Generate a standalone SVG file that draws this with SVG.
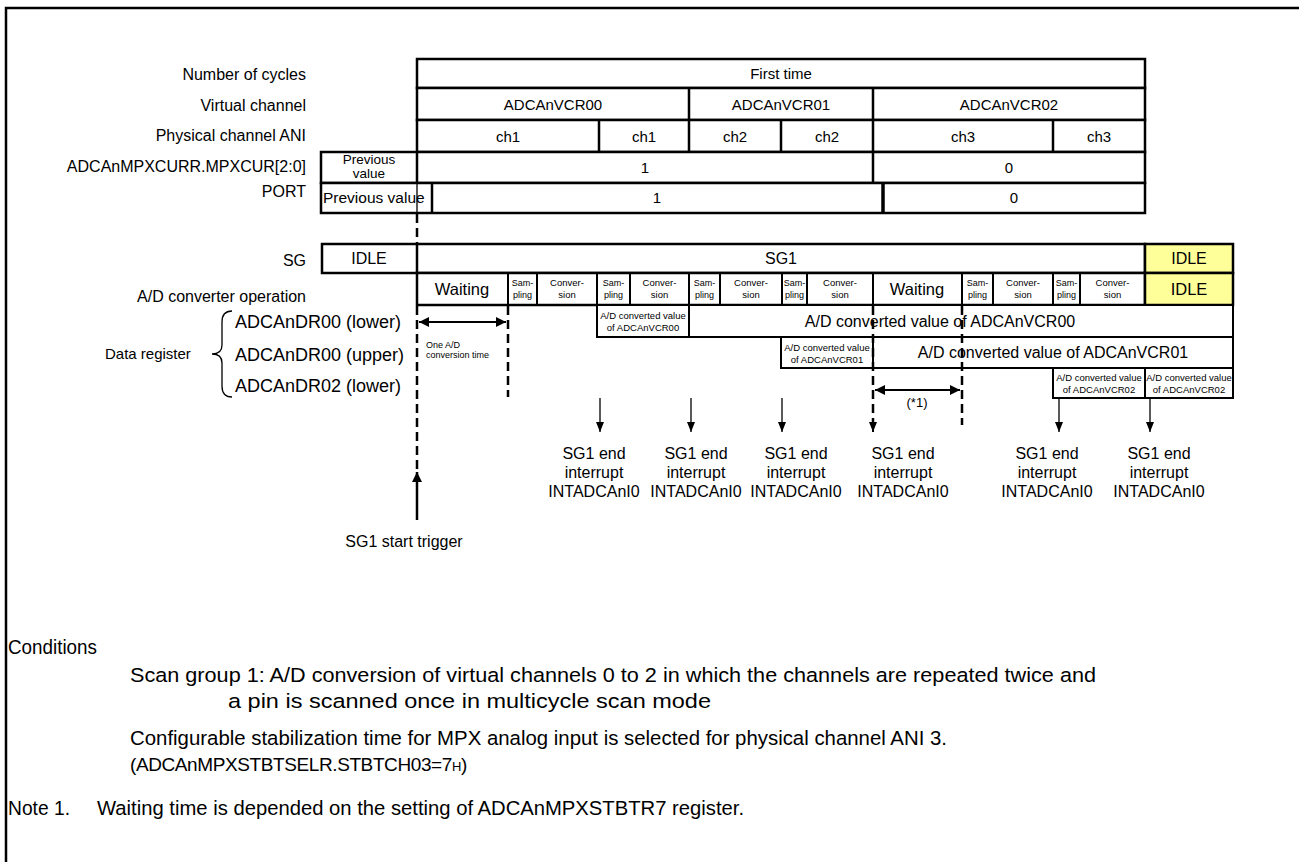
<svg xmlns="http://www.w3.org/2000/svg" width="1299" height="862" viewBox="0 0 1299 862">
<defs>
<style>
text{font-family:"Liberation Sans",Arial,sans-serif;fill:#000}
.lbl{font-size:16px;text-anchor:end}
.c{text-anchor:middle}
.t15{font-size:15px}
.t16{font-size:16px}
.box{fill:#fff;stroke:#000;stroke-width:2.5}
.yl{fill:#ffff99;stroke:#000;stroke-width:2.5}
.dv{stroke:#000;stroke-width:2.5;fill:none}
.dv2{stroke:#000;stroke-width:2;fill:none}
.thin{stroke:#000;stroke-width:1.3;fill:none}
.dash{stroke:#000;stroke-width:2.5;stroke-dasharray:9 5;fill:none}
.sm{font-size:9px;text-anchor:middle}
.cv{font-size:9.5px;text-anchor:middle}
.xs{font-size:9.5px;text-anchor:middle}
.ot{font-size:9px}
.bt{font-size:20.5px}
.rb{fill:#fff;stroke:#000;stroke-width:2}
</style>
<marker id="ah" viewBox="0 0 10 10" refX="10" refY="5" markerWidth="10" markerHeight="10" markerUnits="userSpaceOnUse" orient="auto-start-reverse"><path d="M0,0 L10,5 L0,10 z" fill="#000"/></marker>
<marker id="ahs" viewBox="0 0 10 8" refX="10" refY="4" markerWidth="10" markerHeight="8" markerUnits="userSpaceOnUse" orient="auto"><path d="M0,0 L10,4 L0,8 z" fill="#000"/></marker>
</defs>
<rect x="0" y="0" width="1299" height="862" fill="#fff"/>
<path d="M6,862 V8 H1299" fill="none" stroke="#000" stroke-width="2.5"/>

<g id="labels">
<text class="lbl" x="306" y="80">Number of cycles</text>
<text class="lbl" x="306" y="111">Virtual channel</text>
<text class="lbl" x="306" y="141">Physical channel ANI</text>
<text class="lbl" x="306" y="172">ADCAnMPXCURR.MPXCUR[2:0]</text>
<text class="lbl" x="306" y="197">PORT</text>
<text class="lbl" x="306" y="266">SG</text>
<text class="lbl" x="306" y="302">A/D converter operation</text>
<text class="t15" x="105" y="359">Data register</text>
<path class="thin" d="M232,311 Q222,311 222,322 L222,345 Q222,354 212,354 Q222,354 222,363 L222,386 Q222,397 232,397" stroke-width="1.5"/>
<text x="235" y="328" font-size="18">ADCAnDR00 (lower)</text>
<text x="235" y="361" font-size="18">ADCAnDR00 (upper)</text>
<text x="235" y="392" font-size="18">ADCAnDR02 (lower)</text>
</g>

<g id="row-cycles">
<rect class="box" x="417" y="59" width="728" height="29"/>
<text class="t15 c" x="781" y="79">First time</text>
</g>

<g id="row-virtual">
<rect class="box" x="417" y="88" width="728" height="32"/>
<path class="dv" d="M689,88 V120 M873,88 V120"/>
<text class="t15 c" x="553" y="110">ADCAnVCR00</text>
<text class="t15 c" x="781" y="110">ADCAnVCR01</text>
<text class="t15 c" x="1009" y="110">ADCAnVCR02</text>
</g>

<g id="row-physical">
<rect class="box" x="417" y="120" width="728" height="32"/>
<path class="dv" d="M599,120 V152 M689,120 V152 M781,120 V152 M873,120 V152 M1053,120 V152"/>
<text class="t15 c" x="508" y="142">ch1</text>
<text class="t15 c" x="644" y="142">ch1</text>
<text class="t15 c" x="735" y="142">ch2</text>
<text class="t15 c" x="827" y="142">ch2</text>
<text class="t15 c" x="963" y="142">ch3</text>
<text class="t15 c" x="1099" y="142">ch3</text>
</g>

<g id="row-mpxcur">
<rect class="box" x="321" y="152" width="824" height="31"/>
<path class="dv" d="M417,152 V183 M873,152 V183"/>
<text class="c" x="369" y="163.5" font-size="13.5">Previous</text>
<text class="c" x="369" y="177.5" font-size="13.5">value</text>
<text class="t15 c" x="645" y="173">1</text>
<text class="t15 c" x="1009" y="173">0</text>
</g>

<g id="row-port">
<rect class="box" x="321" y="183" width="824" height="30"/>
<path class="thin" d="M417,183 V213"/>
<path class="dv" d="M432,183 V213"/>
<path d="M883,183 V213" stroke="#000" stroke-width="3.5"/>
<text x="323" y="203" font-size="15.5">Previous value</text>
<text class="t15 c" x="657" y="203">1</text>
<text class="t15 c" x="1014" y="203">0</text>
</g>

<g id="row-sg">
<rect class="box" x="322" y="244" width="823" height="29"/>
<rect class="yl" x="1145" y="244" width="88" height="29"/>
<path class="dv" d="M417,244 V273"/>
<text class="t16 c" x="369" y="264">IDLE</text>
<text class="t16 c" x="781" y="264">SG1</text>
<text class="t16 c" x="1189" y="264">IDLE</text>
</g>

<g id="row-adop">
<rect class="box" x="417" y="273" width="728" height="32"/>
<rect class="yl" x="1145" y="273" width="88" height="32"/>
<path class="dv2" d="M508,273 V305 M537,273 V305 M597,273 V305 M630,273 V305 M689,273 V305 M720,273 V305 M782,273 V305 M807,273 V305 M873,273 V305 M962,273 V305 M993,273 V305 M1053,273 V305 M1080,273 V305"/>
<text class="c" x="462" y="295" font-size="16.5">Waiting</text>
<text class="c" x="917" y="295" font-size="16.5">Waiting</text>
<text class="c" x="1189" y="295" font-size="16.5">IDLE</text>
<text class="sm" x="522.5" y="286">Sam-</text><text class="sm" x="522.5" y="298">pling</text>
<text class="sm" x="613.5" y="286">Sam-</text><text class="sm" x="613.5" y="298">pling</text>
<text class="sm" x="704.5" y="286">Sam-</text><text class="sm" x="704.5" y="298">pling</text>
<text class="sm" x="794.5" y="286">Sam-</text><text class="sm" x="794.5" y="298">pling</text>
<text class="sm" x="977.5" y="286">Sam-</text><text class="sm" x="977.5" y="298">pling</text>
<text class="sm" x="1066.5" y="286">Sam-</text><text class="sm" x="1066.5" y="298">pling</text>
<text class="cv" x="567" y="286">Conver-</text><text class="cv" x="567" y="298">sion</text>
<text class="cv" x="659.5" y="286">Conver-</text><text class="cv" x="659.5" y="298">sion</text>
<text class="cv" x="751" y="286">Conver-</text><text class="cv" x="751" y="298">sion</text>
<text class="cv" x="840" y="286">Conver-</text><text class="cv" x="840" y="298">sion</text>
<text class="cv" x="1023" y="286">Conver-</text><text class="cv" x="1023" y="298">sion</text>
<text class="cv" x="1112.5" y="286">Conver-</text><text class="cv" x="1112.5" y="298">sion</text>
</g>

<g id="reg-dr00-lower">
<rect class="rb" x="597" y="305" width="92" height="32"/>
<text class="xs" x="643" y="319">A/D converted value</text>
<text class="xs" x="643" y="331">of ADCAnVCR00</text>
<rect class="rb" x="689" y="305" width="544" height="32"/>
<text class="t16 c" x="940" y="327">A/D converted value of ADCAnVCR00</text>
</g>

<g id="reg-dr00-upper">
<rect class="rb" x="781" y="337" width="92" height="31"/>
<text class="xs" x="827" y="351">A/D converted value</text>
<text class="xs" x="827" y="363">of ADCAnVCR01</text>
<rect class="rb" x="873" y="337" width="360" height="31"/>
<text class="t16 c" x="1053" y="358">A/D converted value of ADCAnVCR01</text>
</g>

<g id="reg-dr02-lower">
<rect class="rb" x="1053" y="368" width="92" height="30"/>
<text class="xs" x="1099" y="381">A/D converted value</text>
<text class="xs" x="1099" y="393">of ADCAnVCR02</text>
<rect class="rb" x="1145" y="368" width="88" height="30"/>
<text class="xs" x="1189" y="381">A/D converted value</text>
<text class="xs" x="1189" y="393">of ADCAnVCR02</text>
</g>

<g id="connectors">
<path class="dash" d="M417,214 V244"/>
<path class="dash" d="M417,306 V472"/>
<line x1="417" y1="520" x2="417" y2="472" stroke="#000" stroke-width="2.5" marker-end="url(#ah)"/>
<path class="dash" d="M508,306 V397"/>
<line x1="419" y1="322" x2="506" y2="322" stroke="#000" stroke-width="2" marker-start="url(#ah)" marker-end="url(#ah)"/>
<path class="dash" d="M873,306 V422"/>
<path class="dash" d="M962,306 V425"/>
<line x1="875" y1="390" x2="960" y2="390" stroke="#000" stroke-width="2" marker-start="url(#ah)" marker-end="url(#ah)"/>
<line x1="873" y1="420" x2="873" y2="432" stroke="#000" stroke-width="2" marker-end="url(#ahs)"/>
<line x1="600" y1="398" x2="600" y2="432" stroke="#000" stroke-width="1.3" marker-end="url(#ahs)"/>
<line x1="691" y1="398" x2="691" y2="432" stroke="#000" stroke-width="1.3" marker-end="url(#ahs)"/>
<line x1="782" y1="398" x2="782" y2="432" stroke="#000" stroke-width="1.3" marker-end="url(#ahs)"/>
<line x1="1059" y1="398" x2="1059" y2="432" stroke="#000" stroke-width="1.3" marker-end="url(#ahs)"/>
<line x1="1150" y1="398" x2="1150" y2="432" stroke="#000" stroke-width="1.3" marker-end="url(#ahs)"/>
</g>

<g id="annotations">
<text class="ot" x="426" y="348">One A/D</text>
<text class="ot" x="426" y="358">conversion time</text>
<text x="917" y="407" font-size="13" text-anchor="middle">(*1)</text>
<text class="t16 c" x="404" y="547">SG1 start trigger</text>
</g>

<g id="interrupts">
<g class="t16"><text class="c" x="594" y="459">SG1 end</text><text class="c" x="594" y="478">interrupt</text><text class="c" x="594" y="497">INTADCAnI0</text></g>
<g class="t16"><text class="c" x="696" y="459">SG1 end</text><text class="c" x="696" y="478">interrupt</text><text class="c" x="696" y="497">INTADCAnI0</text></g>
<g class="t16"><text class="c" x="796" y="459">SG1 end</text><text class="c" x="796" y="478">interrupt</text><text class="c" x="796" y="497">INTADCAnI0</text></g>
<g class="t16"><text class="c" x="903" y="459">SG1 end</text><text class="c" x="903" y="478">interrupt</text><text class="c" x="903" y="497">INTADCAnI0</text></g>
<g class="t16"><text class="c" x="1047" y="459">SG1 end</text><text class="c" x="1047" y="478">interrupt</text><text class="c" x="1047" y="497">INTADCAnI0</text></g>
<g class="t16"><text class="c" x="1159" y="459">SG1 end</text><text class="c" x="1159" y="478">interrupt</text><text class="c" x="1159" y="497">INTADCAnI0</text></g>
</g>

<g id="conditions">
<text class="bt" x="8" y="654" textLength="89" lengthAdjust="spacingAndGlyphs">Conditions</text>
<text class="bt" x="130" y="682" textLength="966" lengthAdjust="spacingAndGlyphs">Scan group 1: A/D conversion of virtual channels 0 to 2 in which the channels are repeated twice and</text>
<text class="bt" x="228" y="708" textLength="483" lengthAdjust="spacingAndGlyphs">a pin is scanned once in multicycle scan mode</text>
<text class="bt" x="130" y="745" textLength="817" lengthAdjust="spacingAndGlyphs">Configurable stabilization time for MPX analog input is selected for physical channel ANI 3.</text>
<text x="130" y="771" font-size="19" letter-spacing="-0.4">(ADCAnMPXSTBTSELR.STBTCH03=7<tspan font-size="13">H</tspan>)</text>
<text class="bt" x="8" y="815" textLength="62" lengthAdjust="spacingAndGlyphs">Note 1.</text>
<text class="bt" x="97" y="815" textLength="647" lengthAdjust="spacingAndGlyphs">Waiting time is depended on the setting of ADCAnMPXSTBTR7 register.</text>
</g>
</svg>
